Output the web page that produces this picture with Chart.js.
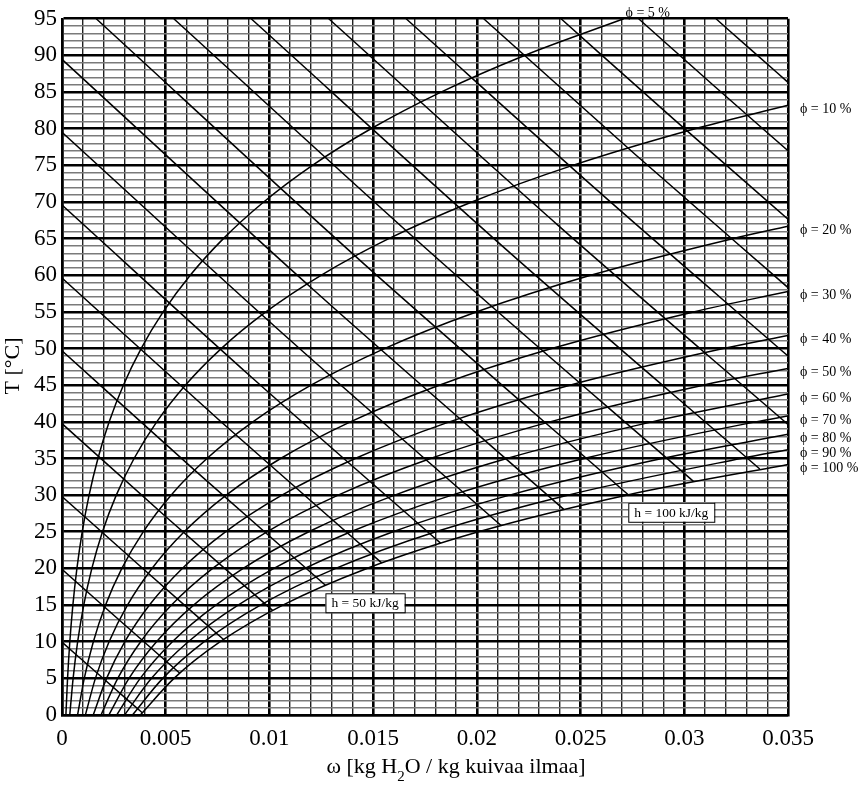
<!DOCTYPE html>
<html>
<head>
<meta charset="utf-8">
<script src="https://cdn.jsdelivr.net/npm/chart.js@4.4.1/dist/chart.umd.min.js"></script>
<style>
  body { margin: 0; background: #fff; }
  #wrap { width: 859px; height: 792px; }
</style>
</head>
<body>
<div id="wrap"><canvas id="psy" width="859" height="792"></canvas></div>
<script>
// lampotilat (°C) joissa kayrat on luettu
var temps = [0, 5, 10, 15, 20, 25, 30, 35, 40, 45, 50, 55, 60, 65, 70, 75, 80, 85, 90, 95];

// suhteellisen kosteuden kayrat: omega (kg/kg) kullakin lampotilalla
var rh5   = [0.000188, 0.000268, 0.000377, 0.000524, 0.000719, 0.000974, 0.001306, 0.001732, 0.002275, 0.002958,
             0.003814, 0.004875, 0.006181, 0.007779, 0.009723, 0.012071, 0.014894, 0.018271, 0.022300, 0.027081];
var rh10  = [0.000375, 0.000536, 0.000755, 0.001048, 0.001439, 0.001951, 0.002617, 0.003474, 0.004566, 0.005945,
             0.007675, 0.009827, 0.012486, 0.015754, 0.019755, 0.024620, 0.030519];
var rh20  = [0.000751, 0.001073, 0.001511, 0.002100, 0.002885, 0.003915, 0.005257, 0.006987, 0.009200, 0.012005,
             0.015541, 0.019970, 0.025484, 0.032327];
var rh30  = [0.001128, 0.001610, 0.002269, 0.003156, 0.004338, 0.005891, 0.007919, 0.010540, 0.013902, 0.018183,
             0.023607, 0.030444];
var rh40  = [0.001505, 0.002149, 0.003029, 0.004215, 0.005797, 0.007880, 0.010603, 0.014133, 0.018676, 0.024482, 0.031879];
var rh50  = [0.001882, 0.002688, 0.003791, 0.005278, 0.007263, 0.009881, 0.013311, 0.017768, 0.023521, 0.030907];
var rh60  = [0.002260, 0.003229, 0.004555, 0.006344, 0.008736, 0.011895, 0.016042, 0.021444, 0.028440];
var rh70  = [0.002638, 0.003770, 0.005320, 0.007414, 0.010216, 0.013922, 0.018797, 0.025162, 0.033435];
var rh80  = [0.003017, 0.004313, 0.006088, 0.008488, 0.011703, 0.015962, 0.021575, 0.028924];
var rh90  = [0.003396, 0.004856, 0.006857, 0.009565, 0.013197, 0.018015, 0.024378, 0.032730];
var rh100 = [0.003775, 0.005400, 0.007628, 0.010646, 0.014698, 0.020081, 0.027205];

var rhSeries = [rh5, rh10, rh20, rh30, rh40, rh50, rh60, rh70, rh80, rh90, rh100];
var rhLabels = ['ϕ = 5 %', 'ϕ = 10 %', 'ϕ = 20 %', 'ϕ = 30 %', 'ϕ = 40 %', 'ϕ = 50 %',
                'ϕ = 60 %', 'ϕ = 70 %', 'ϕ = 80 %', 'ϕ = 90 %', 'ϕ = 100 %'];
// lampotila jossa kayra osuu oikeaan reunaan (omega = 0.035), null = paattyy ylareunaan
var rhEdgeT = [null, 83.2, 66.7, 57.8, 51.8, 47.3, 43.8, 40.8, 38.3, 36.2, 34.2];

// entalpiasuorat h = 10 ... 180 kJ/kg: alku-, keski- ja loppupiste
var hValues = [10, 20, 30, 40, 50, 60, 70, 80, 90, 100, 110, 120, 130, 140, 150, 160, 170, 180];
var hStartW = [0, 0, 0, 0, 0, 0, 0, 0, 0, 0.00165, 0.00539, 0.00912, 0.01286, 0.01659, 0.02033, 0.02406, 0.02780, 0.03153];
var hStartT = [9.94, 19.88, 29.82, 39.76, 49.70, 59.64, 69.58, 79.52, 89.46, 95, 95, 95, 95, 95, 95, 95, 95, 95];
var hMidW   = [0.001935, 0.00284, 0.003895, 0.005075, 0.00635, 0.007705, 0.009125, 0.010585, 0.012095, 0.014475,
               0.017915, 0.02138, 0.02393, 0.025795, 0.027665, 0.02953, 0.0314, 0.033265];
var hMidT   = [5.11, 12.75, 19.99, 26.89, 33.52, 39.92, 46.12, 52.19, 58.09, 61.77, 62.73, 63.61, 66.78, 71.62, 76.42, 81.20, 85.93, 90.65];
var hEndW   = [0.00387, 0.00568, 0.00779, 0.01015, 0.0127, 0.01541, 0.01825, 0.02117, 0.02419, 0.0273, 0.03044, 0.03364,
               0.035, 0.035, 0.035, 0.035, 0.035, 0.035];
var hEndT   = [0.3, 5.7, 10.3, 14.27, 17.7, 20.75, 23.45, 25.85, 28.05, 30.05, 31.88, 33.57, 39.65, 48.98, 58.32, 67.66, 76.99, 86.33];
var hBoxed  = [50, 100];

var serif = '"Liberation Serif", "Times New Roman", serif';

var datasets = [];
rhSeries.forEach(function (ws, i) {
  var pts = ws.map(function (w, j) { return { x: w, y: temps[j] }; });
  if (rhEdgeT[i] !== null) pts.push({ x: 0.035, y: rhEdgeT[i] });
  datasets.push({ label: rhLabels[i], data: pts, cubicInterpolationMode: 'monotone' });
});
hValues.forEach(function (h, i) {
  datasets.push({
    label: 'h = ' + h,
    data: [{ x: hStartW[i], y: hStartT[i] }, { x: hMidW[i], y: hMidT[i] }, { x: hEndW[i], y: hEndT[i] }],
    cubicInterpolationMode: 'monotone'
  });
});

function isMajorX(v) { return Math.abs(v / 0.005 - Math.round(v / 0.005)) < 1e-6; }
function isMajorY(v) { return Math.abs(v % 5) < 1e-9; }

var textPlugin = {
  id: 'merkinnat',
  afterDraw: function (chart) {
    var ctx = chart.ctx, xs = chart.scales.x, ys = chart.scales.y, area = chart.chartArea;
    ctx.save();
    ctx.fillStyle = '#000';

    // kosteuskayrien nimet
    ctx.font = '14px ' + serif;
    ctx.textBaseline = 'middle';
    rhSeries.forEach(function (ws, i) {
      if (rhEdgeT[i] === null) {
        ctx.textAlign = 'center';
        ctx.fillText(rhLabels[i], xs.getPixelForValue(ws[ws.length - 1]) + 24, area.top - 5);
      } else {
        ctx.textAlign = 'left';
        ctx.fillText(rhLabels[i], area.right + 12, ys.getPixelForValue(rhEdgeT[i]) + 4);
      }
    });

    // entalpialaatikot
    ctx.font = '13.5px ' + serif;
    hBoxed.forEach(function (h) {
      var i = hValues.indexOf(h);
      var px = xs.getPixelForValue(hEndW[i]), py = ys.getPixelForValue(hEndT[i]);
      var txt = 'h = ' + h + ' kJ/kg';
      var w = ctx.measureText(txt).width + 12;
      ctx.fillStyle = '#fff';
      ctx.fillRect(px, py + 8, w, 19);
      ctx.strokeStyle = '#000';
      ctx.lineWidth = 1;
      ctx.strokeRect(px + 0.5, py + 8.5, w, 19);
      ctx.fillStyle = '#000';
      ctx.textAlign = 'left';
      ctx.fillText(txt, px + 6, py + 18.5);
    });

    // akselien otsikot
    ctx.font = '22px ' + serif;
    ctx.textBaseline = 'alphabetic';
    ctx.save();
    ctx.translate(19, 366);
    ctx.rotate(-Math.PI / 2);
    ctx.textAlign = 'center';
    ctx.fillText('T [°C]', 0, 0);
    ctx.restore();

    var p1 = 'ω [kg H', p2 = '2', p3 = 'O / kg kuivaa ilmaa]';
    ctx.font = '22px ' + serif;
    var w1 = ctx.measureText(p1).width, w3 = ctx.measureText(p3).width;
    ctx.font = '15px ' + serif;
    var w2 = ctx.measureText(p2).width;
    var x0 = 456 - (w1 + w2 + w3) / 2, base = 773;
    ctx.textAlign = 'left';
    ctx.font = '22px ' + serif;
    ctx.fillText(p1, x0, base);
    ctx.font = '15px ' + serif;
    ctx.fillText(p2, x0 + w1, base + 8);
    ctx.font = '22px ' + serif;
    ctx.fillText(p3, x0 + w1 + w2, base);
    ctx.restore();
  }
};

new Chart(document.getElementById('psy'), {
  type: 'line',
  data: { datasets: datasets },
  options: {
    responsive: false,
    animation: false,
    layout: { padding: { left: 0, right: 71, top: 16, bottom: 0 } },
    elements: {
      line: { borderColor: '#000', borderWidth: 1.5, fill: false },
      point: { radius: 0, hoverRadius: 0 }
    },
    plugins: { legend: { display: false }, tooltip: { enabled: false } },
    scales: {
      x: {
        type: 'linear', min: 0, max: 0.035,
        afterFit: function (s) { s.height = 77; },
        border: { display: true, color: '#000', width: 2.5 },
        grid: {
          drawTicks: false,
          color: function (c) { return isMajorX(c.tick.value) ? '#000' : '#222'; },
          lineWidth: function (c) { return isMajorX(c.tick.value) ? 2.6 : 1.4; }
        },
        ticks: {
          stepSize: 0.001, autoSkip: false, maxRotation: 0, padding: 10,
          color: '#000', font: { family: serif, size: 23 },
          callback: function (v) { return isMajorX(v) ? String(+v.toFixed(3)) : ''; }
        }
      },
      y: {
        type: 'linear', min: 0, max: 95,
        afterFit: function (s) { s.width = 62; },
        border: { display: true, color: '#000', width: 2.5 },
        grid: {
          drawTicks: false,
          color: function (c) { return isMajorY(c.tick.value) ? '#000' : '#7a7a7a'; },
          lineWidth: function (c) { return isMajorY(c.tick.value) ? 2.6 : 1.6; }
        },
        ticks: {
          stepSize: 1, autoSkip: false, padding: 5,
          color: '#000', font: { family: serif, size: 23 },
          callback: function (v) { return isMajorY(v) ? String(v) : ''; }
        }
      }
    }
  },
  plugins: [textPlugin]
});
</script>
</body>
</html>
